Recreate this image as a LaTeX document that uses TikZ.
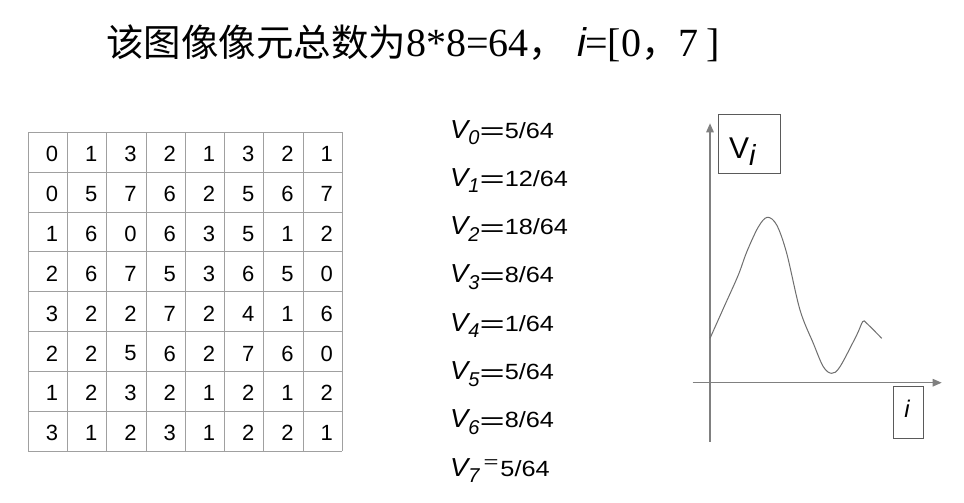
\documentclass[tikz,border=0pt]{standalone}
\usepackage{fontspec}
\usepackage{graphicx}
\setmainfont{Liberation Sans}
\newfontfamily\cjk{Noto Sans CJK SC}
\newfontfamily\serifl{Liberation Serif}
\usetikzlibrary{arrows.meta}
\definecolor{gridgray}{RGB}{160,160,160}
\definecolor{axisgray}{RGB}{128,128,128}
\definecolor{curvegray}{RGB}{110,110,110}
\definecolor{boxgray}{RGB}{90,90,90}
\newcommand\vrowtext[3]{\scalebox{1.05}[1]{\fontsize{26}{26}\selectfont\itshape V}\raisebox{-6.5pt}{\fontsize{20}{20}\selectfont\itshape #1}#3\scalebox{1.15}[1]{\fontsize{22}{22}\selectfont #2/64}}
\newcommand\boldeq{\raisebox{-1.5pt}{\scalebox{1.8}[1]{\fontsize{24}{24}\selectfont =}}}
\newcommand\thineq{\hspace{4pt}\raisebox{9pt}{\scalebox{1.6}[1]{\fontsize{16}{16}\selectfont =}}\hspace{2pt}}
\newcommand\ser[1]{{\serifl\fontsize{40}{40}\selectfont #1}}
\begin{document}
\begin{tikzpicture}[x=1pt,y=-1pt,
  gridline/.style={gridgray, line width=1pt},
  cell/.style={inner sep=0pt, font=\fontsize{22}{22}\selectfont},
  vrow/.style={anchor=base west, inner sep=0pt},
  axisline/.style={axisgray, line width=1.3pt, -{Triangle[length=9pt,width=7.5pt]}},
  curveline/.style={curvegray, line width=1pt},
  labelbox/.style={draw=boxgray, line width=1pt, inner sep=0pt}]
\path[use as bounding box, fill=white] (0,0) rectangle (964,503);

% title
\node[anchor=base west, inner sep=0pt, font=\fontsize{37.5}{37.5}\selectfont] (title) at (106,57)
  {{\cjk 该图像像元总数为}\ser{8*8=64}{\cjk ，}\hspace{0.3em}{\fontsize{40}{40}\selectfont\itshape i}\hspace{-1pt}\ser{=[0}{\cjk ，}\ser{7\hspace{0.2em}]}};

% grid
\foreach \i in {0,...,8} {
  \draw[gridline] (28.3+39.25*\i,132.3) -- (28.3+39.25*\i,451.1);
  \draw[gridline] (28.3,132.3+39.85*\i) -- (342.3,132.3+39.85*\i);
}
\foreach \row [count=\r from 0] in {{0,1,3,2,1,3,2,1},{0,5,7,6,2,5,6,7},{1,6,0,6,3,5,1,2},{2,6,7,5,3,6,5,0},{3,2,2,7,2,4,1,6},{2,2,5,6,2,7,6,0},{1,2,3,2,1,2,1,2},{3,1,2,3,1,2,2,1}} {
  \foreach \v [count=\c from 0] in \row {
    \node[cell] (c\r\c) at (28.3+39.25*\c+19.6+4, 132.3+39.85*\r+19.9+2) {\v};
  }
}

% V list
\foreach \k/\f in {0/5,1/12,2/18,3/8,4/1,5/5,6/8} {
  \node[vrow] (v\k) at (450,138+48.3*\k) {\vrowtext{\k}{\f}{\boldeq}};
}
\node[vrow] (v7) at (450,138+48.3*7) {\vrowtext{7}{5}{\thineq}};

% graph
\coordinate (yb) at (710,441.7);
\coordinate (yt) at (710,123.3);
\coordinate (xl) at (692.7,382.7);
\coordinate (xr) at (941.7,382.7);
\draw[axisline] (yb) -- (yt);
\draw[axisline] (xl) -- (xr);
\draw[curveline] plot[smooth, tension=0.55] coordinates {
  (710,338.3) (724,307) (738.3,275) (746.7,252) (758.3,227) (767.3,217.3) (776.7,225)
  (786.7,253.3) (800,310) (813.3,343.3) (823.3,366.7) (831.7,373.3) (840,366.7)
  (856.7,335) (862.7,321.7) (866.7,323.3) (881.7,338.3)};

\node[labelbox, minimum width=62.4pt, minimum height=59.3pt] (vbox) at (749.5,143.7) {};
\node[anchor=base west, inner sep=0pt] (vlab) at (729,158)
  {\fontsize{30}{30}\selectfont V\raisebox{-7pt}{\fontsize{29}{29}\selectfont\itshape i}};
\node[labelbox, minimum width=30pt, minimum height=52.3pt] (ibox) at (908.3,412.2) {};
\node[anchor=base, inner sep=0pt] (ilab) at (907,417) {\fontsize{24}{24}\selectfont\itshape i};
\end{tikzpicture}
\end{document}
